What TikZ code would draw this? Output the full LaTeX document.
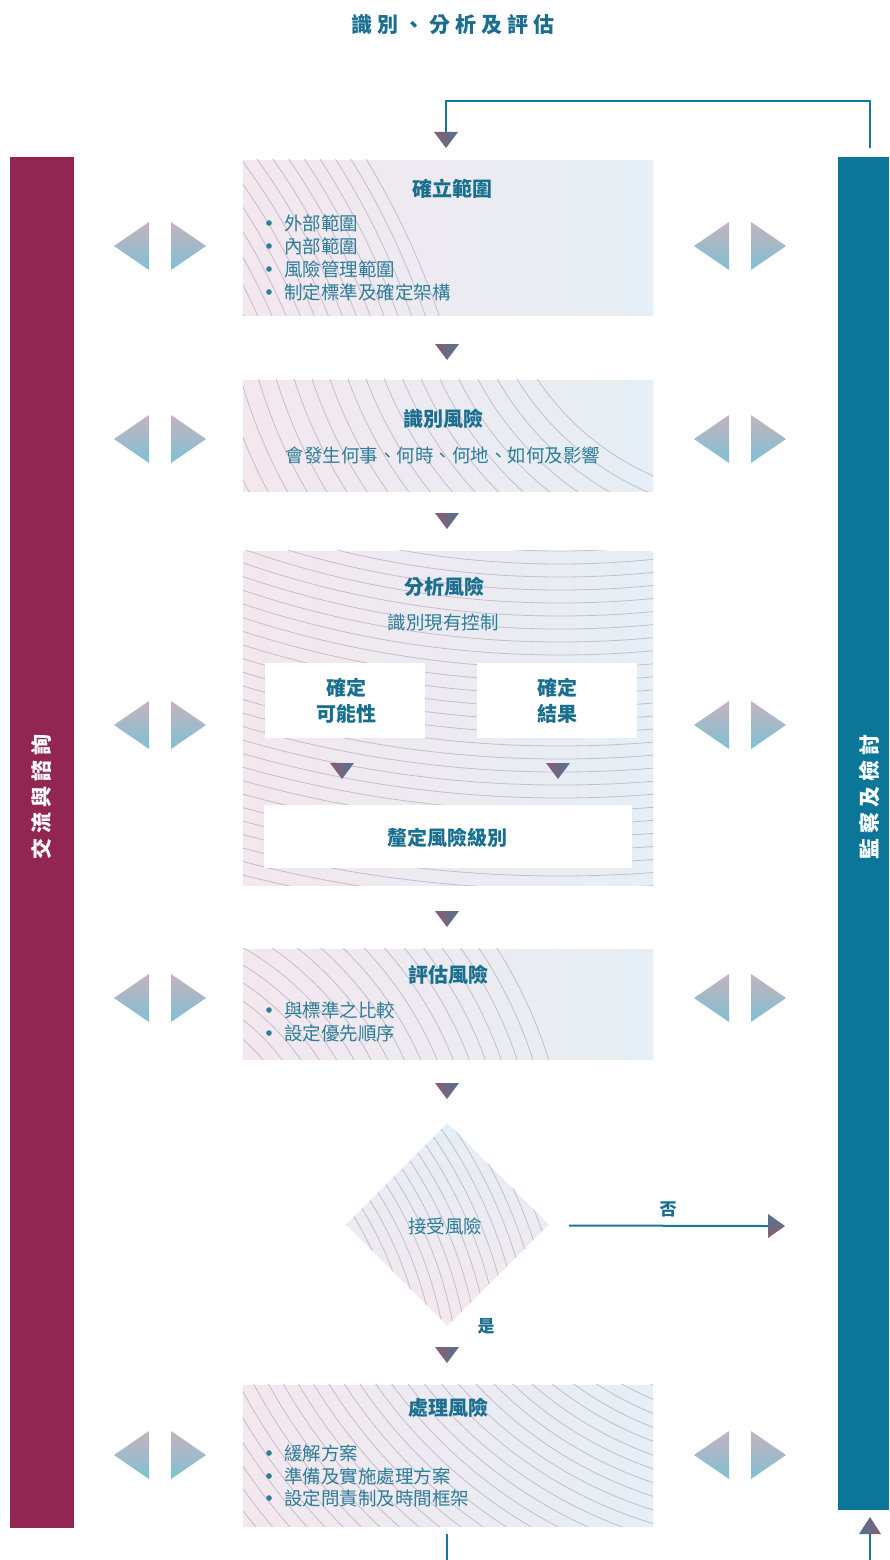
\documentclass[tikz,border=0pt]{standalone}
\usepackage{fontspec}
\setmainfont{Noto Sans CJK TC}
\usetikzlibrary{shapes.geometric}
\definecolor{teal1}{HTML}{14789A}
\definecolor{txt}{HTML}{1A6F8F}
\definecolor{txtl}{HTML}{2C7D99}
\definecolor{wine}{HTML}{922653}
\definecolor{sea}{HTML}{0C7699}
\definecolor{pinkbg}{HTML}{F4E7EE}
\definecolor{bluebg}{HTML}{E5EFF5}
\definecolor{wave}{HTML}{C4BDCA}
\definecolor{trimauve}{HTML}{8C5B70}
\definecolor{trislate}{HTML}{4F7692}
\definecolor{sidetop}{HTML}{C5B3BF}
\definecolor{sidebot}{HTML}{7EC0D3}
\newcommand\tgap{\hspace{5pt}}
\newcommand\wavesin[5]{\foreach \rr in {#3,#4,...,#5} \draw[waveline] (#1,#2) circle[radius=\rr];}
\newcommand\dtriangle[3]{\path[dtri] (#2-12,#3) -- (#2+12,#3) -- (#2,#3+16) -- cycle; \coordinate (#1) at (#2,#3);}
\newcommand\sidepair[2]{%
  \path[stri] (#1,#2) -- (#1+35,#2-24) -- (#1+35,#2+24) -- cycle;
  \path[stri] (#1+57,#2-24) -- (#1+57,#2+24) -- (#1+92,#2) -- cycle;}
\newcommand\blt[2]{\fill[txtl] (269,#1) circle[radius=2.8];
  \node[body,anchor=west] at (284,#1) {#2};}
\begin{document}
\begin{tikzpicture}[x=1pt,y=-1pt,
  box/.style={draw=none,inner sep=0pt,minimum width=410pt,left color=pinkbg,right color=bluebg},
  wbox/.style={fill=white,draw=none,inner sep=0pt},
  head/.style={font=\fontsize{20}{26}\selectfont\bfseries,text=txt,inner sep=0pt,align=center},
  body/.style={font=\fontsize{18.5}{23}\selectfont,text=txtl,inner sep=0pt},
  lab/.style={font=\fontsize{17}{20}\selectfont\bfseries,text=txt,inner sep=0pt},
  waveline/.style={draw=wave,line width=0.8pt},
  conn/.style={draw=teal1,line width=2pt},
  dtri/.style={left color=trimauve,right color=trislate},
  stri/.style={top color=sidetop,bottom color=sidebot},
  bar/.style={inner sep=0pt,draw=none},
  bartext/.style={rotate=90,font=\fontsize{21}{24}\selectfont\bfseries,text=white,inner sep=0pt}]
\useasboundingbox (0,0) rectangle (889,1560);
\fill[white] (0,0) rectangle (889,1560);

% title
\node[font=\fontsize{21}{24}\selectfont\bfseries,text=txt,inner sep=0pt] (title) at (453,25)
  {識\tgap 別\tgap 、\tgap 分\tgap 析\tgap 及\tgap 評\tgap 估};

% side bars
\node[bar,fill=wine,minimum width=64pt,minimum height=1371pt] (lbar) at (42,842.5) {};
\node[bar,fill=sea,minimum width=51pt,minimum height=1353pt] (rbar) at (863.5,833.5) {};
\node[bartext] (ltext) at (41,797) {交\tgap 流\tgap 與\tgap 諮\tgap 詢};
\node[bartext] (rtext) at (870,797) {監\tgap 察\tgap 及\tgap 檢\tgap 討};

% boxes
\node[box,minimum height=155pt] (b1) at (448,237.5) {};
\node[box,minimum height=111pt] (b2) at (448,435.5) {};
\node[box,minimum height=334pt] (b3) at (448,718) {};
\node[box,minimum height=110pt] (b4) at (448,1004) {};
\node[box,minimum height=141pt] (b6) at (448,1455.5) {};
\node[diamond,shape aspect=1,minimum width=203pt,minimum height=203pt,inner sep=0pt,draw=none,
  top color=bluebg,bottom color=pinkbg] (dia) at (447.5,1224.5) {};

% wave textures
\begin{scope}\clip (b1.north west) rectangle (b1.south east); \wavesin{-314}{571}{613}{626}{800}\end{scope}
\begin{scope}\clip (b2.north west) rectangle (b2.south east); \wavesin{760}{230}{268}{285}{580}\end{scope}
\begin{scope}\clip (b3.north west) rectangle (b3.south east); \wavesin{560}{-350}{901}{914}{1275}\end{scope}
\begin{scope}\clip (b4.north west) rectangle (b4.south east); \wavesin{100}{1200}{200}{215}{480}\end{scope}
\begin{scope}\clip (b6.north west) rectangle (b6.south east); \wavesin{780}{1100}{312}{325}{690}\end{scope}
\begin{scope}\clip (dia.north) -- (dia.east) -- (dia.south) -- (dia.west) -- cycle; \wavesin{50}{1400}{344}{355}{530}\end{scope}

% box 1
\node[head] (h1) at (452,189) {確立範圍};
\blt{223}{外部範圍}
\blt{246}{內部範圍}
\blt{269}{風險管理範圍}
\blt{292}{制定標準及確定架構}

% box 2
\node[head] (h2) at (443,419) {識別風險};
\node[body] (t2) at (443,455) {會發生何事、何時、何地、如何及影響};

% box 3
\node[head] (h3) at (444,587) {分析風險};
\node[body] (t3) at (443,622) {識別現有控制};
\node[wbox,minimum width=160pt,minimum height=75pt] (wl) at (345,700.5) {};
\node[wbox,minimum width=160pt,minimum height=75pt] (wr) at (557,700.5) {};
\node[wbox,minimum width=368pt,minimum height=63pt] (wb) at (448,836.5) {};
\node[head] (tl) at (346,701) {確定\\可能性};
\node[head] (tr) at (557,701) {確定\\結果};
\node[head] (tb) at (447,838) {釐定風險級別};
\dtriangle{aL}{342}{763}
\dtriangle{aR}{558}{763}

% box 4
\node[head] (h4) at (448,975) {評估風險};
\blt{1010}{與標準之比較}
\blt{1033}{設定優先順序}

% decision
\node[body] (td) at (445,1226) {接受風險};
\node[lab] (no) at (668,1209) {否};
\node[lab] (yes) at (486,1326) {是};
\coordinate (noS) at ([xshift=20pt,yshift=-1pt]dia.east);
\coordinate (noE) at (769,1226);
\draw[conn] (noS) -- (noE);
\path[top color=trislate,bottom color=trimauve] (768,1214) -- (785,1226) -- (768,1238) -- cycle;

% box 6
\node[head] (h6) at (448,1408) {處理風險};
\blt{1453}{緩解方案}
\blt{1476}{準備及實施處理方案}
\blt{1498}{設定問責制及時間框架}

% flow arrowheads
\dtriangle{a0}{446}{132}
\dtriangle{a1}{447}{344}
\dtriangle{a2}{447}{513}
\dtriangle{a3}{447}{911}
\dtriangle{a4}{447}{1083}
\dtriangle{a5}{447}{1347}

% top loop connector
\coordinate (rtop) at (870,148);
\coordinate (turn) at (870,101);
\draw[conn] (rtop) -- (turn) -| (a0);

% bottom connectors
\coordinate (b6out) at (447,1534);
\coordinate (bend) at (447,1560);
\draw[conn] (b6out) -- (bend);
\coordinate (ub) at (870,1560);
\coordinate (ut) at (870,1533);
\draw[conn] (ub) -- (ut);
\path[left color=trislate,right color=trimauve] (859,1534) -- (881,1534) -- (870,1517) -- cycle;

% side triangles
\foreach \yy in {246,439,725,998,1455} {\sidepair{114}{\yy}\sidepair{694}{\yy}}
\end{tikzpicture}
\end{document}
